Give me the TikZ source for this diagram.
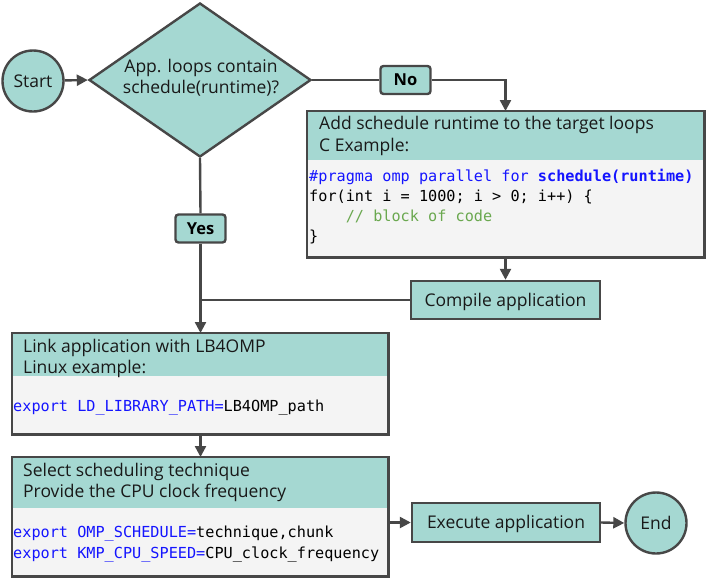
\documentclass[tikz,border=0pt]{standalone}
\usepackage{fontspec}
\setmainfont{Open Sans}
\setmonofont{DejaVu Sans Mono}
\usetikzlibrary{shapes.geometric,arrows.meta,calc}
\definecolor{tealfill}{HTML}{A5D8D2}
\definecolor{bordc}{HTML}{474747}
\definecolor{codebg}{HTML}{F4F4F4}
\definecolor{codeblue}{HTML}{1414FF}
\definecolor{codegreen}{HTML}{6AA84F}
\tikzset{
  x=1pt, y=-1pt,
  bord/.style={draw=bordc, line width=2.4pt},
  txt/.style={font=\fontsize{17.5}{21}\selectfont, inner sep=0pt, text=black!90},
  codetxt/.style={font=\fontsize{15.2}{20}\selectfont\ttfamily, inner sep=0pt, anchor=base west},
  headtxt/.style={txt, anchor=base west},
  term/.style={circle, bord, fill=tealfill, minimum size=61pt, inner sep=0pt, txt, text height=12.5pt, text depth=0pt},
  procbox/.style={rectangle, bord, fill=tealfill, inner sep=0pt, txt, text height=12.5pt, text depth=0pt},
  lbl/.style={rectangle, rounded corners=3pt, bord, fill=tealfill, inner sep=0pt,
    font=\fontsize{16.5}{19}\selectfont\bfseries, minimum width=50pt, minimum height=28pt,
    text height=11.8pt, text depth=0pt},
  conn/.style={draw=bordc, line width=2.4pt},
  arr/.style={conn, -{Triangle[length=11pt,width=11pt]}},
}
\begin{document}
\begin{tikzpicture}
\useasboundingbox (0,0) rectangle (706,579);

% terminals
\node[term] (start) at (33,81) {Start};
\node[diamond, bord, fill=tealfill, minimum width=222pt, minimum height=154pt, aspect=1.44, inner sep=0pt,
  txt, align=center] (dec) at (200,80) {};
\node[txt, anchor=base] (dect1) at (201,72) {App. loops contain};
\node[txt, anchor=base] (dect2) at (201,93) {schedule(runtime)?};

% Add schedule box
\node[rectangle, fill=codebg, minimum width=397pt, minimum height=146pt, anchor=north west, inner sep=0pt] (add) at (307,111) {};
\fill[tealfill] (add.north west) rectangle ($(add.north east)+(0,49)$);
\draw[bord] (add.north west) rectangle (add.south east);
\node[headtxt] (addh1) at (319,129) {Add schedule runtime to the target loops};
\node[headtxt] (addh2) at (319,151) {C Example:};
\node[codetxt, text=codeblue] (addc1) at (309,181) {\#pragma omp parallel for \textbf{schedule(runtime)}};
\node[codetxt] (addc2) at (309,201) {for(int i = 1000; i > 0; i++) \{};
\node[codetxt, text=codegreen] (addc3) at (309,221) {\phantom{xxxx}// block of code};
\node[codetxt] (addc4) at (309,241) {\}};

% Compile
\node[procbox, minimum width=189pt, minimum height=38pt] (comp) at (505.5,300) {Compile application};

% Link box
\node[rectangle, fill=codebg, minimum width=376pt, minimum height=101pt, anchor=north west, inner sep=0pt] (link) at (12,333) {};
\fill[tealfill] (link.north west) rectangle ($(link.north east)+(0,43)$);
\draw[bord] (link.north west) rectangle (link.south east);
\node[headtxt] (linkh1) at (23,352) {Link application with LB4OMP};
\node[headtxt] (linkh2) at (23,373.5) {Linux example:};
\node[codetxt] (linkc1) at (13,411) {\textcolor{codeblue}{export LD\_LIBRARY\_PATH=}LB4OMP\_path};

% Select box
\node[rectangle, fill=codebg, minimum width=376pt, minimum height=119pt, anchor=north west, inner sep=0pt] (sel) at (12,457) {};
\fill[tealfill] (sel.north west) rectangle ($(sel.north east)+(0,51)$);
\draw[bord] (sel.north west) rectangle (sel.south east);
\node[headtxt] (selh1) at (23,476) {Select scheduling technique};
\node[headtxt] (selh2) at (23,497.5) {Provide the CPU clock frequency};
\node[codetxt] (selc1) at (13,537) {\textcolor{codeblue}{export OMP\_SCHEDULE=}technique,chunk};
\node[codetxt] (selc2) at (13,558.5) {\textcolor{codeblue}{export KMP\_CPU\_SPEED=}CPU\_clock\_frequency};

% Execute and End
\node[procbox, minimum width=188pt, minimum height=39pt] (exec) at (506,522.5) {Execute application};
\node[term] (end) at (656,523) {End};

% labels
\node[lbl] (no) at (405.5,80) {No};
\node[lbl] (yes) at (200.5,228.5) {Yes};
\coordinate (nocorner) at (505.5,80);
\coordinate (join) at (200.5,300);

% connectors
\draw[arr] (start) -- (dec.west);
\draw[conn] (dec.east) -- (no.west);
\draw[arr] (no.east) -- (nocorner) -- (nocorner |- add.north);
\draw[arr] (add.south -| comp.north) -- (comp.north);
\draw[conn] (dec.south) -- (yes.north);
\draw[arr] (yes.south) -- (yes.south |- link.north);
\draw[conn] (comp.west) -- (join);
\draw[arr] (link.south -| join) -- (sel.north -| join);
\draw[arr] (sel.east |- exec.west) -- (exec.west);
\draw[arr] (exec.east) -- (end.west);
\end{tikzpicture}
\end{document}
